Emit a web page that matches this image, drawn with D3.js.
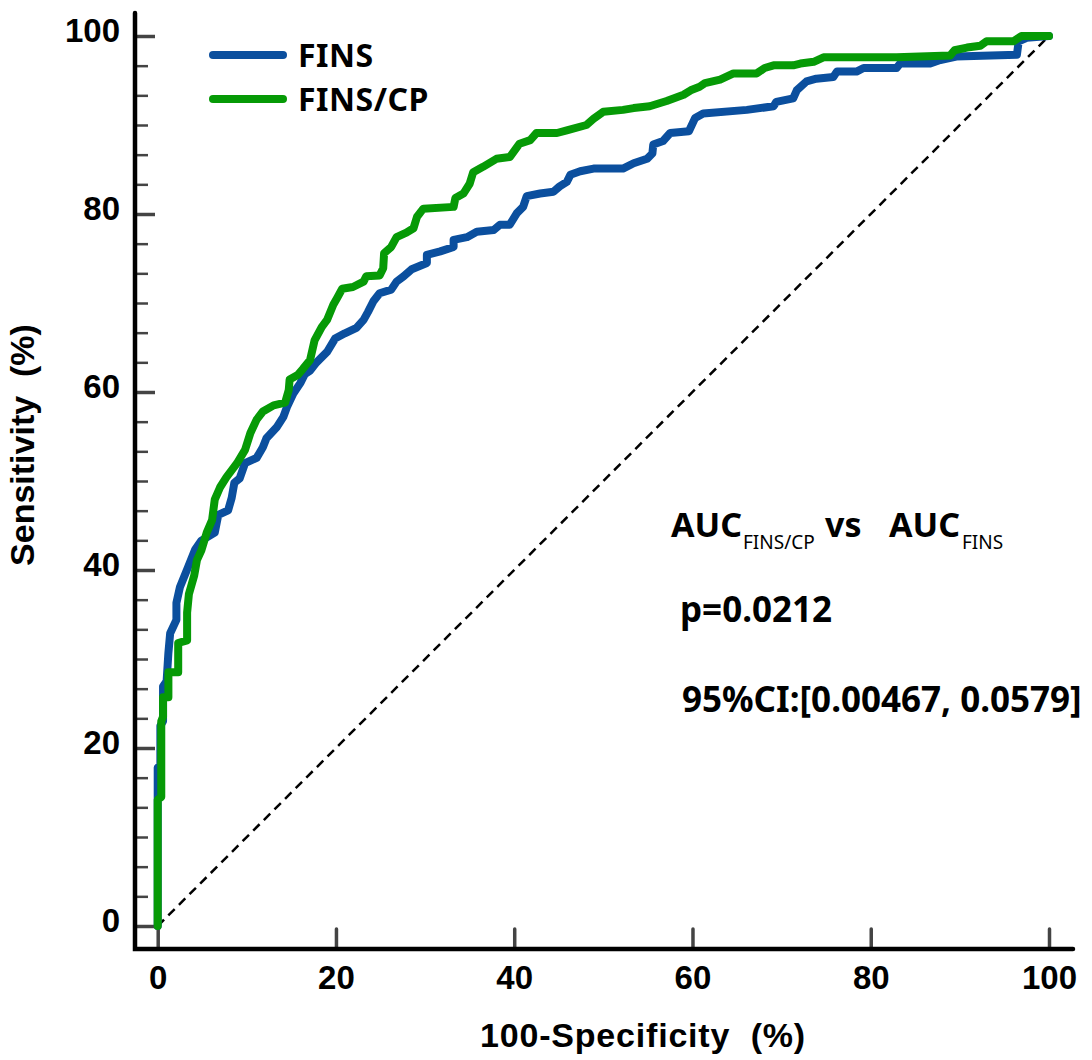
<!DOCTYPE html>
<html>
<head>
<meta charset="utf-8">
<script src="https://cdn.jsdelivr.net/npm/d3@7"></script>
<style>
  body { margin: 0; background: #fff; }
  svg { display: block; }
</style>
</head>
<body>
<svg id="chart" width="1092" height="1060"></svg>
<script>
// ROC points (100-specificity, sensitivity), in %
const finsFpr = [0,0,0.3,0.3,0.6,0.6,1.0,1.2,1.4,2.1,2.1,2.5,3.4,4.2,4.9,6.4,6.8,7.9,8.3,8.6,9.2,9.8,11.1,11.8,12.2,13.4,14.1,14.5,15.2,16.0,16.5,17.1,17.8,19.0,19.9,21.0,22.3,23.1,23.6,24.2,24.9,26.2,26.8,27.6,28.5,30.2,30.2,31.7,33.2,33.2,34.7,35.8,37.7,38.4,39.5,40.3,41.0,41.4,42.9,44.4,45.1,45.9,46.3,47.4,48.9,52.2,53.4,54.9,55.5,55.6,56.7,57.5,59.6,60.3,61.2,66.1,69.1,69.4,71.3,71.7,72.8,73.9,75.8,76.2,78.4,79.2,82.9,83.3,86.6,87.8,89.6,96.4,96.6,97.5,100];
const finsTpr = [0,17.8,18,22.5,23,26.9,27.5,30.7,32.9,34.4,36.3,38.1,40.3,42.3,43.3,44.2,46.2,46.7,48.1,49.8,50.3,52,52.6,53.8,54.8,56.1,57.2,58.3,59.8,61,62,62.4,63.3,64.5,66,66.6,67.2,68.1,69,70.2,71.1,71.5,72.4,73,73.8,74.5,75.4,75.8,76.3,77.1,77.4,78,78.2,78.8,78.8,80.1,80.8,82,82.3,82.5,83.1,83.6,84.4,84.8,85.1,85.1,85.7,86.2,86.8,87.8,88.2,89.1,89.3,90.8,91.3,91.7,92.1,92.6,93,93.9,94.9,95.2,95.4,96,96,96.4,96.4,96.9,96.9,97.3,97.7,97.9,99.4,99.8,100];

const cpFpr = [0,0,0.4,0.4,0.6,0.6,1.2,1.2,2.3,2.3,3.3,3.3,3.5,4.1,4.4,4.9,5.5,6.1,6.4,7.0,7.7,8.9,9.8,10.4,11.1,11.8,13.0,14.3,14.7,14.8,15.7,16.3,17.1,17.6,18.4,19.0,19.7,20.1,20.7,21.9,23.1,23.4,24.9,25.3,25.4,26.2,26.8,27.9,28.7,29.1,29.8,33.2,33.4,34.3,35.0,35.4,36.5,38.0,39.5,40.6,41.8,42.5,44.8,45.9,48.1,48.9,50.0,52.2,53.4,55.2,57.1,59.0,59.8,60.8,61.4,63.1,64.6,67.2,68.1,69.1,71.3,72.1,73.6,74.7,82.9,88.9,89.4,90.8,92.3,93.0,96.0,96.9,100];
const cpTpr = [0,14.2,14.5,23,23.5,25.7,25.7,28.5,28.5,31.8,32.1,35.2,37.3,39.4,41.1,42.2,44.2,45.6,47.9,49.3,50.4,52,53.5,55.4,56.9,57.8,58.5,58.8,60.2,61.4,61.9,62.6,63.6,65.8,67.3,68.1,69.8,70.5,71.6,71.8,72.4,73.0,73.1,73.9,75.6,76.3,77.4,77.9,78.4,79.7,80.6,80.8,81.8,82.3,83.4,84.7,85.3,86.2,86.4,87.9,88.3,89.1,89.1,89.4,90.0,90.7,91.5,91.7,91.9,92.1,92.7,93.4,93.9,94.3,94.7,95.1,95.8,95.8,96.4,96.7,96.7,96.9,97.1,97.6,97.6,97.8,98.4,98.7,98.9,99.4,99.4,100,100];

const seriesNames = ["FINS", "FINS/CP"];
const seriesColors = ["#0b4f9e", "#069a06"];
const xTicks = [0, 20, 40, 60, 80, 100];
const yTicks = [0, 20, 40, 60, 80, 100];

const svg = d3.select("#chart");
const labelFont = "'Liberation Sans', Arial, sans-serif";
const noteFont = "'Noto Sans', 'Open Sans', sans-serif";

var x = d3.scaleLinear().domain([0, 100]).range([157.7, 1049]);
var y = d3.scaleLinear().domain([0, 100]).range([926, 36]);

const axisX = 135, axisY = 949;

// minor y ticks, 6 per major step
const minorY = d3.range(0, 100.01, 20 / 6).filter(v => Math.abs(v / 20 - Math.round(v / 20)) > 0.01);
svg.append("g")
    .attr("transform", `translate(${axisX},0)`)
    .call(d3.axisLeft(y).tickValues(minorY).tickSize(-13).tickFormat(""))
    .call(g => g.select(".domain").remove())
    .call(g => g.selectAll("line").attr("stroke", "#444").attr("stroke-width", 2.5));

// major y ticks + labels
svg.append("g")
    .attr("transform", `translate(${axisX},0)`)
    .call(d3.axisLeft(y).tickValues(yTicks).tickSize(-20).tickPadding(15))
    .call(g => g.select(".domain").remove())
    .call(g => g.selectAll("line").attr("stroke", "#444").attr("stroke-width", 3.5))
    .call(g => g.selectAll("text")
        .attr("dy", "0.18em")
        .style("font-family", labelFont).style("font-weight", "bold")
        .style("font-size", "33px").attr("fill", "#000"));

// x ticks + labels
svg.append("g")
    .attr("transform", `translate(0,${axisY})`)
    .call(d3.axisBottom(x).tickValues(xTicks).tickSize(-20).tickPadding(17))
    .call(g => g.select(".domain").remove())
    .call(g => g.selectAll("line").attr("stroke", "#444").attr("stroke-width", 3.5).attr("stroke-linecap", "round"))
    .call(g => g.selectAll("text")
        .style("font-family", labelFont).style("font-weight", "bold")
        .style("font-size", "33px").attr("fill", "#000"));

// axis lines
svg.append("path")
    .attr("d", `M${axisX},13 V${axisY} H1073`)
    .attr("fill", "none")
    .attr("stroke", "#000")
    .attr("stroke-width", 4.5)
    .attr("stroke-linecap", "round");

// reference diagonal
svg.append("line")
    .attr("x1", x(0)).attr("y1", y(0))
    .attr("x2", x(100)).attr("y2", y(100))
    .attr("stroke", "#000")
    .attr("stroke-width", 2.5)
    .attr("stroke-dasharray", "9,6");

var line = d3.line()
    .x(d => x(d[0]))
    .y(d => y(d[1]));

const curves = [
    d3.zip(finsFpr, finsTpr),
    d3.zip(cpFpr, cpTpr)
];

svg.selectAll(".roc")
    .data(curves)
    .enter()
    .append("path")
        .attr("class", "roc")
        .attr("d", line)
        .attr("fill", "none")
        .attr("stroke", (d, i) => seriesColors[i])
        .attr("stroke-width", 8)
        .attr("stroke-linejoin", "round")
        .attr("stroke-linecap", "round");

// legend
const legend = svg.selectAll(".legend")
    .data(seriesNames)
    .enter()
    .append("g")
        .attr("class", "legend")
        .attr("transform", (d, i) => `translate(213,${55 + i * 44})`);

legend.append("line")
    .attr("x1", 0).attr("x2", 70)
    .attr("stroke", (d, i) => seriesColors[i])
    .attr("stroke-width", 8)
    .attr("stroke-linecap", "round");

legend.append("text")
    .attr("x", 85)
    .attr("dy", "0.36em")
    .style("font-family", noteFont).style("font-weight", "bold")
    .style("font-size", "32px").style("letter-spacing", "0.5px")
    .text(d => d);

// axis titles
svg.append("text")
    .attr("x", 643).attr("y", 1047)
    .attr("text-anchor", "middle")
    .style("font-family", labelFont).style("font-weight", "bold")
    .style("font-size", "34px").style("letter-spacing", "0.8px")
    .text("100-Specificity\u00a0\u00a0(%)");

svg.append("text")
    .attr("transform", "translate(34,445) rotate(-90)")
    .attr("text-anchor", "middle")
    .style("font-family", labelFont).style("font-weight", "bold")
    .style("font-size", "34px")
    .text("Sensitivity\u00a0\u00a0(%)");

// comparison note
const note = svg.append("g")
    .style("font-family", noteFont).style("font-weight", "bold")
    .attr("fill", "#000");

const auc = note.append("text").attr("y", 537).style("font-size", "34px");
auc.append("tspan").attr("x", 671).text("AUC");
auc.append("tspan").attr("x", 743).attr("y", 549).style("font-size", "19px").style("font-weight", "normal").text("FINS/CP");
auc.append("tspan").attr("x", 825).attr("y", 537).text("vs");
auc.append("tspan").attr("x", 889).text("AUC");
auc.append("tspan").attr("x", 962).attr("y", 549).style("font-size", "19px").style("font-weight", "normal").text("FINS");

note.append("text").attr("x", 680).attr("y", 622).style("font-size", "35px").text("p=0.0212");
note.append("text").attr("x", 682).attr("y", 712).style("font-size", "35px").text("95%CI:[0.00467, 0.0579]");
</script>
</body>
</html>
